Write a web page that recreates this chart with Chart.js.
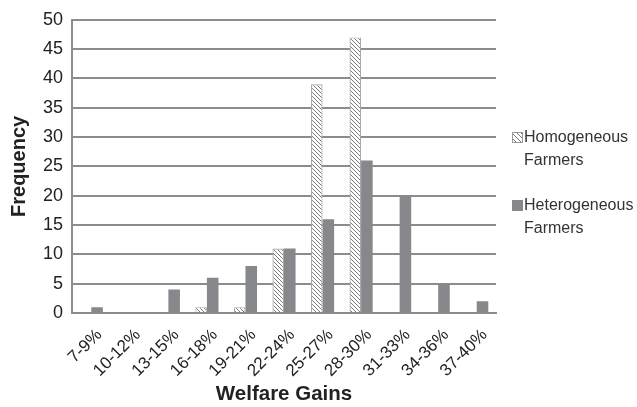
<!DOCTYPE html>
<html>
<head>
<meta charset="utf-8">
<script src="https://cdn.jsdelivr.net/npm/chart.js@4"></script>
<style>
  html, body { margin: 0; padding: 0; background: #fff; }
  #wrap { position: relative; width: 637px; height: 407px; }
  #legend { position: absolute; left: 512px; top: 125px; font-family: "Liberation Sans", Arial, sans-serif; font-size: 16px; color: #333; line-height: 23px; white-space: nowrap; }
  .item { position: relative; padding-left: 12px; margin-bottom: 22px; }
  .sw { position: absolute; left: 0; top: 7px; width: 11px; height: 11px; box-sizing: border-box; }
  .hatch { border: 1px solid #999; background: repeating-linear-gradient(45deg, #fff 0 1.5px, #777 1.5px 2.6px, #fff 2.6px 3.5px); }
  .solid { background: #87888c; }
</style>
</head>
<body>
<div id="wrap">
  <canvas id="c" width="637" height="407"></canvas>
  <div id="legend"></div>
</div>
<script>
const categories = ["7-9%", "10-12%", "13-15%", "16-18%", "19-21%", "22-24%", "25-27%", "28-30%", "31-33%", "34-36%", "37-40%"];
const homogeneous = [0, 0, 0, 1, 1, 11, 39, 47, 0, 0, 0];
const heterogeneous = [1, 0, 4, 6, 8, 11, 16, 26, 20, 5, 2];
const seriesNames = [["Homogeneous", "Farmers"], ["Heterogeneous", "Farmers"]];

// diagonal hatch fill for the first series
function hatchPattern() {
  const s = 4;
  const p = document.createElement("canvas");
  p.width = s; p.height = s;
  const g = p.getContext("2d");
  g.fillStyle = "#fff";
  g.fillRect(0, 0, s, s);
  g.strokeStyle = "#7a7a7a";
  g.lineWidth = 1;
  g.beginPath();
  g.moveTo(-1, -1); g.lineTo(s + 1, s + 1);
  g.moveTo(-1, s - 1); g.lineTo(1, s + 1);
  g.moveTo(s - 1, -1); g.lineTo(s + 1, 1);
  g.stroke();
  return g.createPattern(p, "repeat");
}

const ctx = document.getElementById("c").getContext("2d");
const font = "'Liberation Sans', Arial, sans-serif";
const gridGrey = "#8c8c8c";

new Chart(ctx, {
  type: "bar",
  data: {
    labels: categories,
    datasets: [
      { label: seriesNames[0].join(" "), data: homogeneous, backgroundColor: hatchPattern(), borderColor: "#a8a8a8", borderWidth: 1.2, barPercentage: 1, categoryPercentage: 0.6 },
      { label: seriesNames[1].join(" "), data: heterogeneous, backgroundColor: "#87888c", borderColor: "#87888c", borderWidth: 0, barPercentage: 1, categoryPercentage: 0.6 }
    ]
  },
  options: {
    responsive: false,
    animation: false,
    layout: { padding: { left: 0, right: 141, top: 17, bottom: 0 } },
    plugins: { legend: { display: false }, tooltip: { enabled: false } },
    scales: {
      x: {
        afterFit: (axis) => { axis.height = 94; },
        grid: { display: false },
        border: { color: gridGrey, width: 2 },
        ticks: { color: "#222", font: { family: font, size: 17 }, maxRotation: 45, minRotation: 45, padding: 4, labelOffset: 8 },
        title: { display: true, text: "Welfare Gains", color: "#222", font: { family: font, size: 20.5, weight: "bold" }, padding: { top: 0, bottom: 0 } }
      },
      y: {
        min: 0, max: 50,
        afterFit: (axis) => { axis.width = 72; },
        ticks: { stepSize: 5, color: "#222", font: { family: font, size: 18 }, padding: 9 },
        grid: { color: gridGrey, lineWidth: 2, drawTicks: false },
        border: { color: gridGrey, width: 2 },
        title: { display: true, text: "Frequency", color: "#222", font: { family: font, size: 20, weight: "bold" }, padding: { top: 7, bottom: 0 } }
      }
    }
  }
});

// legend entries with wrapped labels
const legend = document.getElementById("legend");
seriesNames.forEach((lines, i) => {
  const d = document.createElement("div");
  d.className = "item";
  const sw = document.createElement("span");
  sw.className = "sw " + (i === 0 ? "hatch" : "solid");
  d.appendChild(sw);
  lines.forEach((t, j) => {
    if (j) d.appendChild(document.createElement("br"));
    d.appendChild(document.createTextNode(t));
  });
  legend.appendChild(d);
});
</script>
</body>
</html>
